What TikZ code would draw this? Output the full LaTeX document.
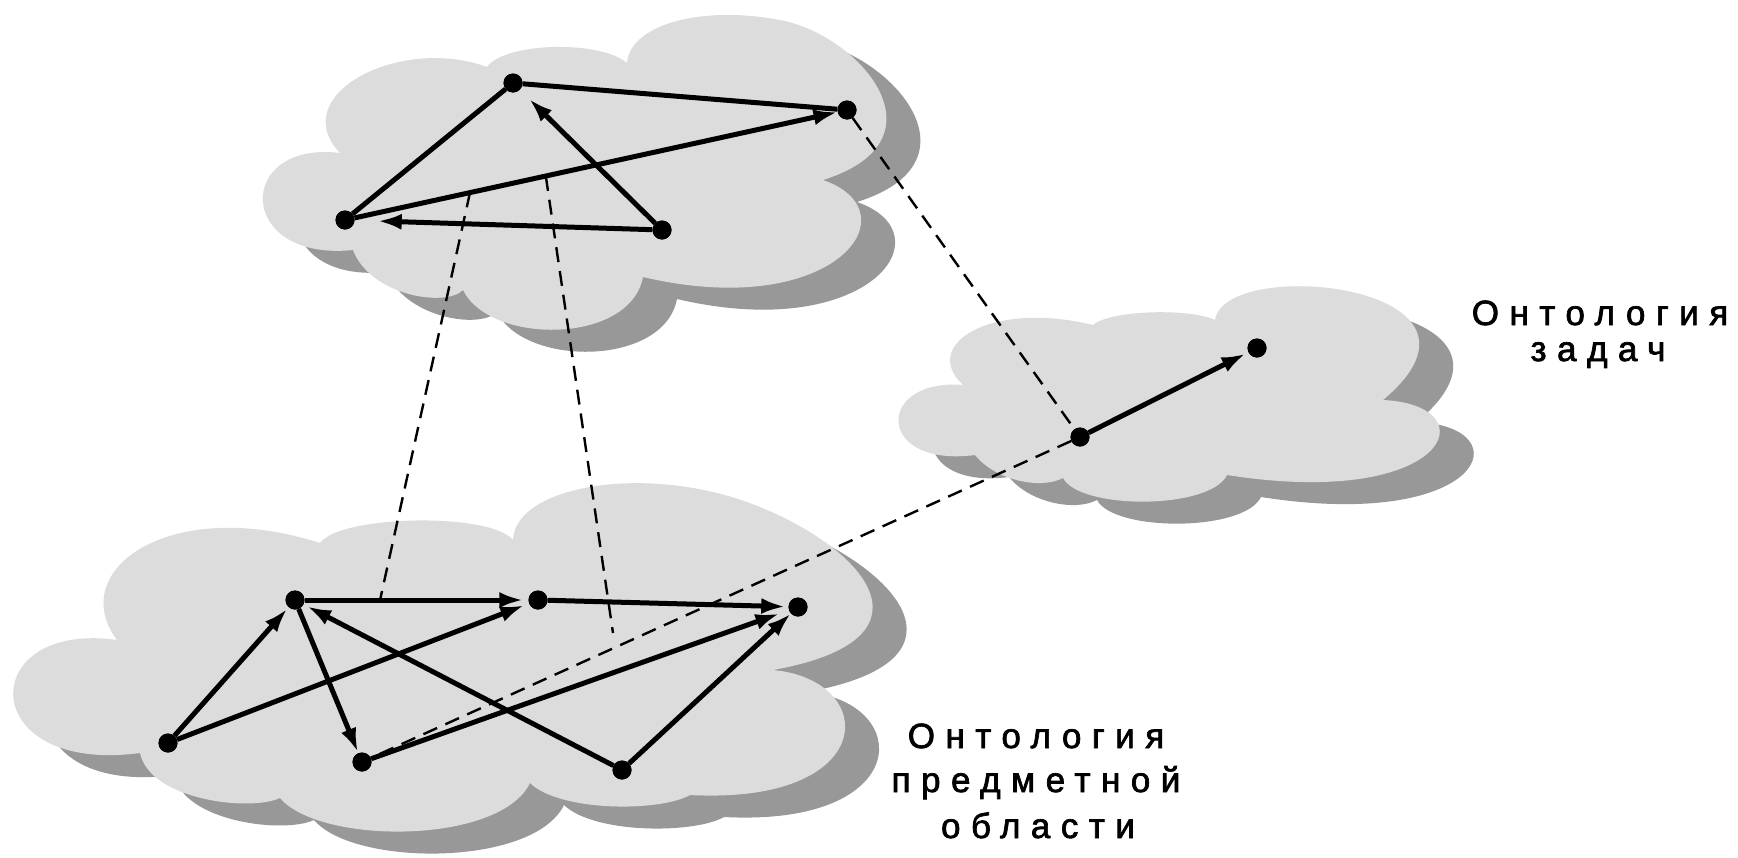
\documentclass[tikz,border=0pt]{standalone}
\usepackage{fontspec}
\newfontfamily\lblfont{Liberation Sans}[LetterSpace=30,FakeBold=2]
\usetikzlibrary{arrows.meta,calc}
\definecolor{cloudc}{RGB}{220,220,220}
\definecolor{shadowc}{RGB}{152,152,152}
\newcommand{\cloudtop}{(353,250) .. controls (235,262) and (235,140) .. (340,153)
 .. controls (285,95) and (400,35) .. (487,67)
 .. controls (505,42) and (600,40) .. (627,63)
 .. controls (630,25) and (700,5) .. (780,20)
 .. controls (860,35) and (950,140) .. (823,180)
 .. controls (915,212) and (835,322) .. (643,277)
 .. controls (630,345) and (490,345) .. (463,290)
 .. controls (445,308) and (370,295) .. (353,250) -- cycle}
\newcommand{\cloudright}{(975,455) .. controls (875,468) and (875,378) .. (963,385)
 .. controls (920,345) and (990,300) .. (1093,325)
 .. controls (1110,310) and (1190,308) .. (1215,320)
 .. controls (1225,255) and (1520,285) .. (1383,400)
 .. controls (1490,405) and (1450,510) .. (1227,475)
 .. controls (1210,510) and (1080,510) .. (1063,478)
 .. controls (1040,490) and (995,480) .. (975,455) -- cycle}
\newcommand{\cloudbottom}{(140,753) .. controls (-25,775) and (-25,620) .. (117,640)
 .. controls (65,570) and (170,495) .. (320,543)
 .. controls (340,515) and (490,512) .. (513,540)
 .. controls (515,485) and (650,462) .. (760,507)
 .. controls (870,552) and (940,640) .. (773,670)
 .. controls (880,680) and (880,805) .. (690,795)
 .. controls (660,812) and (560,812) .. (530,783)
 .. controls (500,845) and (320,845) .. (280,798)
 .. controls (250,812) and (150,800) .. (140,753) -- cycle}
\tikzset{
  cloudfill/.style={fill=cloudc},
  cloudshadow/.style={fill=shadowc, shift={(34,22)}},
  dot/.style={circle, fill=black, inner sep=0pt, minimum size=19pt},
  edge/.style={line width=5pt, black},
  arr/.style={edge, -{Latex[length=24pt,width=16pt]}},
  dashln/.style={line width=2.4pt, black, dash pattern=on 15pt off 9pt},
  lbl/.style={font=\lblfont\fontsize{35}{45}\selectfont, inner sep=0pt, anchor=base}
}
\begin{document}
\begin{tikzpicture}[x=1pt,y=-1pt]
\useasboundingbox (0,0) rectangle (1738,857);
\fill[white] (0,0) rectangle (1738,857);
% shadows
\fill[cloudshadow] \cloudtop;
\fill[cloudshadow] \cloudright;
\fill[cloudshadow] \cloudbottom;
% clouds
\fill[cloudfill] \cloudtop;
\fill[cloudfill] \cloudright;
\fill[cloudfill] \cloudbottom;
% nodes
\node[dot] (A) at (513,83) {};
\node[dot] (B) at (847,110) {};
\node[dot] (C) at (345,220) {};
\node[dot] (D) at (662,230) {};
\node[dot] (E) at (1080,437) {};
\node[dot] (F) at (1257,348) {};
\node[dot] (G) at (168,743) {};
\node[dot] (H) at (295,600) {};
\node[dot] (I) at (538,600) {};
\node[dot] (J) at (798,607) {};
\node[dot] (K) at (362,762) {};
\node[dot] (L) at (622,770) {};
% dashed links
\coordinate (t1) at ($(C)!0.249!(B)$);
\coordinate (b1) at ($(H)!0.35!(I)$);
\coordinate (t2) at ($(C)!0.40!(B)$);
\coordinate (b2) at (613,633);
\draw[dashln] (t1) -- (b1);
\draw[dashln] (t2) -- (b2);
\draw[dashln] (B) -- (E);
\draw[dashln] (E) -- (K);
% top cloud edges
\draw[edge] (A) -- (C);
\draw[edge] (A) -- (B);
\draw[arr] (C) -- (B);
\draw[arr, shorten >=13pt] (D) -- (A);
\draw[arr, shorten >=23pt] (D) -- (C);
% right cloud edge
\draw[arr, shorten >=3pt] (E) -- (F);
% bottom cloud edges
\draw[arr, shorten >=2pt] (G) -- (H);
\draw[arr, shorten >=5pt] (G) -- (I);
\draw[arr, shorten >=5pt] (H) -- (I);
\draw[arr, shorten >=3pt] (I) -- (J);
\draw[arr, shorten >=1pt] (H) -- (K);
\draw[arr, shorten >=4pt] (L) -- (H);
\draw[arr, shorten >=10pt] (K) -- (J);
\draw[arr] (L) -- (J);
% redraw dots on top
\foreach \n in {A,B,C,D,E,F,G,H,I,J,K,L} \fill (\n) circle (9.5pt);
% labels
\node[lbl] (rt1) at (1600,325) {Онтология};
\node[lbl] (rt2) at (1598,361) {задач};
\node[lbl] (bt1) at (1036,748) {Онтология};
\node[lbl] (bt2) at (1036,792) {предметной};
\node[lbl] (bt3) at (1038,838) {области};
\end{tikzpicture}
\end{document}
